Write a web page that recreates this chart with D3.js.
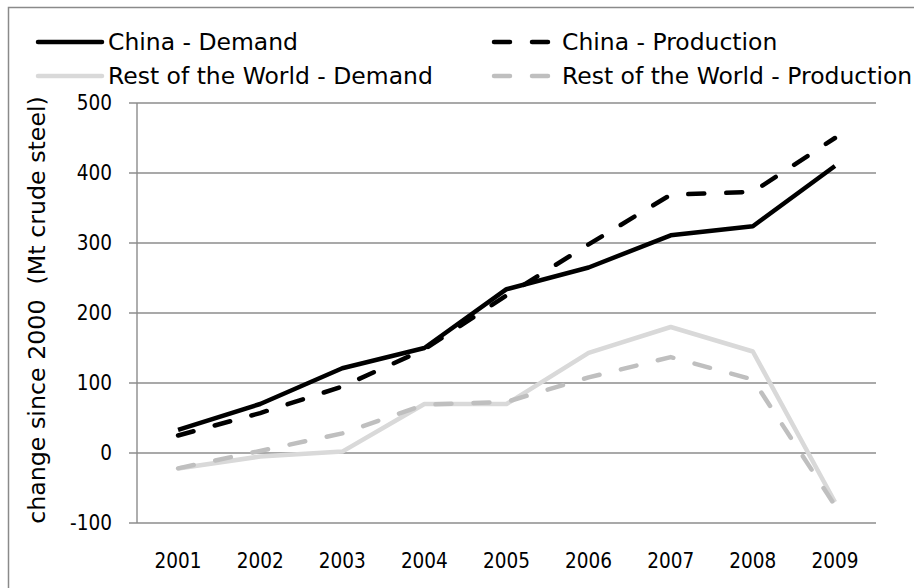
<!DOCTYPE html>
<html>
<head>
<meta charset="utf-8">
<script src="https://cdn.jsdelivr.net/npm/d3@7"></script>
<style>
  html, body { margin: 0; padding: 0; background: #fff; }
  svg { display: block; }
  text { font-family: "DejaVu Sans", "Noto Sans", sans-serif; fill: #000; }
  text.num { font-family: "DejaVu Sans Condensed", "Liberation Sans Narrow", "DejaVu Sans", sans-serif; }
</style>
</head>
<body>
<svg id="chart" width="914" height="588"></svg>
<script>
const years = ["2001","2002","2003","2004","2005","2006","2007","2008","2009"];
const chinaDemand     = [33, 70, 121, 150, 234, 265, 311, 324, 410];
const chinaProduction = [25, 57, 95, 148, 225, 298, 369, 373, 450];
const rowDemand       = [-22, -5, 2, 70, 70, 143, 180, 145, -70];
const rowProduction   = [-22, 3, 28, 69, 73, 108, 137, 105, -75];
const yTicks = [-100, 0, 100, 200, 300, 400, 500];
const yTickLabels = ["-100", "0", "100", "200", "300", "400", "500"];
const seriesNames = ["China - Demand", "China - Production", "Rest of the World - Demand", "Rest of the World - Production"];
const yTitle = "change since 2000\u00a0\u00a0(Mt crude steel)";

const series = [
  { name: seriesNames[0], values: chinaDemand,     color: "#000000", dash: null },
  { name: seriesNames[1], values: chinaProduction, color: "#000000", dash: "16 22" },
  { name: seriesNames[2], values: rowDemand,       color: "#d9d9d9", dash: null },
  { name: seriesNames[3], values: rowProduction,   color: "#bfbfbf", dash: "16 22" }
];

const svg = d3.select("#chart");
const plot = { left: 137, right: 876, top: 103, bottom: 523 };

function measure(str, size, cls) {
  const p = svg.append("text").attr("class", cls || null).style("font-size", size + "px").text(str);
  const w = p.node().getComputedTextLength();
  p.remove();
  return w;
}
const fs = 20 * 190 / measure("China - Demand", 20);
const fsTitle = 20 * 428 / measure(yTitle, 20);
const fsNum = 21;
const numK = 47 / measure("2001", fsNum, "num");
function numText(sel) {
  sel.attr("class", "num")
    .style("font-size", fsNum + "px")
    .attr("lengthAdjust", "spacingAndGlyphs")
    .attr("textLength", function(t) { return measure(this.textContent, fsNum, "num") * numK; });
}

// outer border
svg.append("rect")
  .attr("x", 8.5).attr("y", 7.5).attr("width", 920).attr("height", 600)
  .attr("fill", "none").attr("stroke", "#8a8a8a").attr("stroke-width", 1.5);

const x = d3.scaleBand().domain(years).range([plot.left, plot.right]);
const y = d3.scaleLinear().domain([-100, 500]).range([plot.bottom, plot.top]);

// gridlines
svg.append("g").selectAll("line").data(yTicks).join("line")
  .attr("x1", plot.left - 8).attr("x2", plot.right)
  .attr("y1", d => y(d)).attr("y2", d => y(d))
  .attr("stroke", "#8c8c8c").attr("stroke-width", 1.4);

// y axis line
svg.append("line")
  .attr("x1", plot.left).attr("x2", plot.left)
  .attr("y1", plot.top).attr("y2", plot.bottom)
  .attr("stroke", "#8c8c8c").attr("stroke-width", 1.4);

// y tick labels
svg.append("g").selectAll("text").data(yTicks).join("text")
  .attr("x", 112).attr("y", d => y(d))
  .attr("text-anchor", "end").attr("dominant-baseline", "central")
  .text((d, i) => yTickLabels[i])
  .call(numText);

// x labels
svg.append("g").selectAll("text").data(years).join("text")
  .attr("x", d => x(d) + x.bandwidth() / 2).attr("y", 561)
  .attr("text-anchor", "middle").attr("dominant-baseline", "central")
  .text(d => d)
  .call(numText);

// y title
svg.append("text")
  .attr("transform", `translate(37,310) rotate(-90)`)
  .attr("text-anchor", "middle").attr("dominant-baseline", "central")
  .style("font-size", fsTitle + "px")
  .text(yTitle);

// lines
const line = d3.line()
  .x((d, i) => x(years[i]) + x.bandwidth() / 2)
  .y(d => y(d));

svg.append("g").selectAll("path").data(series).join("path")
  .attr("d", d => line(d.values))
  .attr("fill", "none")
  .attr("stroke", d => d.color)
  .attr("stroke-width", 4.5)
  .attr("stroke-linejoin", "round")
  .attr("stroke-linecap", d => d.dash ? "round" : "butt")
  .attr("stroke-dasharray", d => d.dash);

// legend
const legendPos = [
  { lx: 38, tx: 108, y: 42 },
  { lx: 494, tx: 562, y: 42 },
  { lx: 38, tx: 108, y: 76 },
  { lx: 494, tx: 562, y: 76 }
];
const lg = svg.append("g").selectAll("g").data(series).join("g");
lg.append("line")
  .attr("x1", (d, i) => legendPos[i].lx)
  .attr("x2", (d, i) => d.dash ? legendPos[i].lx + 56 : legendPos[i].lx + 64)
  .attr("y1", (d, i) => legendPos[i].y).attr("y2", (d, i) => legendPos[i].y)
  .attr("stroke", d => d.color).attr("stroke-width", 4.5)
  .attr("stroke-linecap", "round")
  .attr("stroke-dasharray", d => d.dash);
lg.append("text")
  .attr("x", (d, i) => legendPos[i].tx).attr("y", (d, i) => legendPos[i].y)
  .attr("dominant-baseline", "central")
  .style("font-size", fs + "px")
  .text(d => d.name);
</script>
</body>
</html>
